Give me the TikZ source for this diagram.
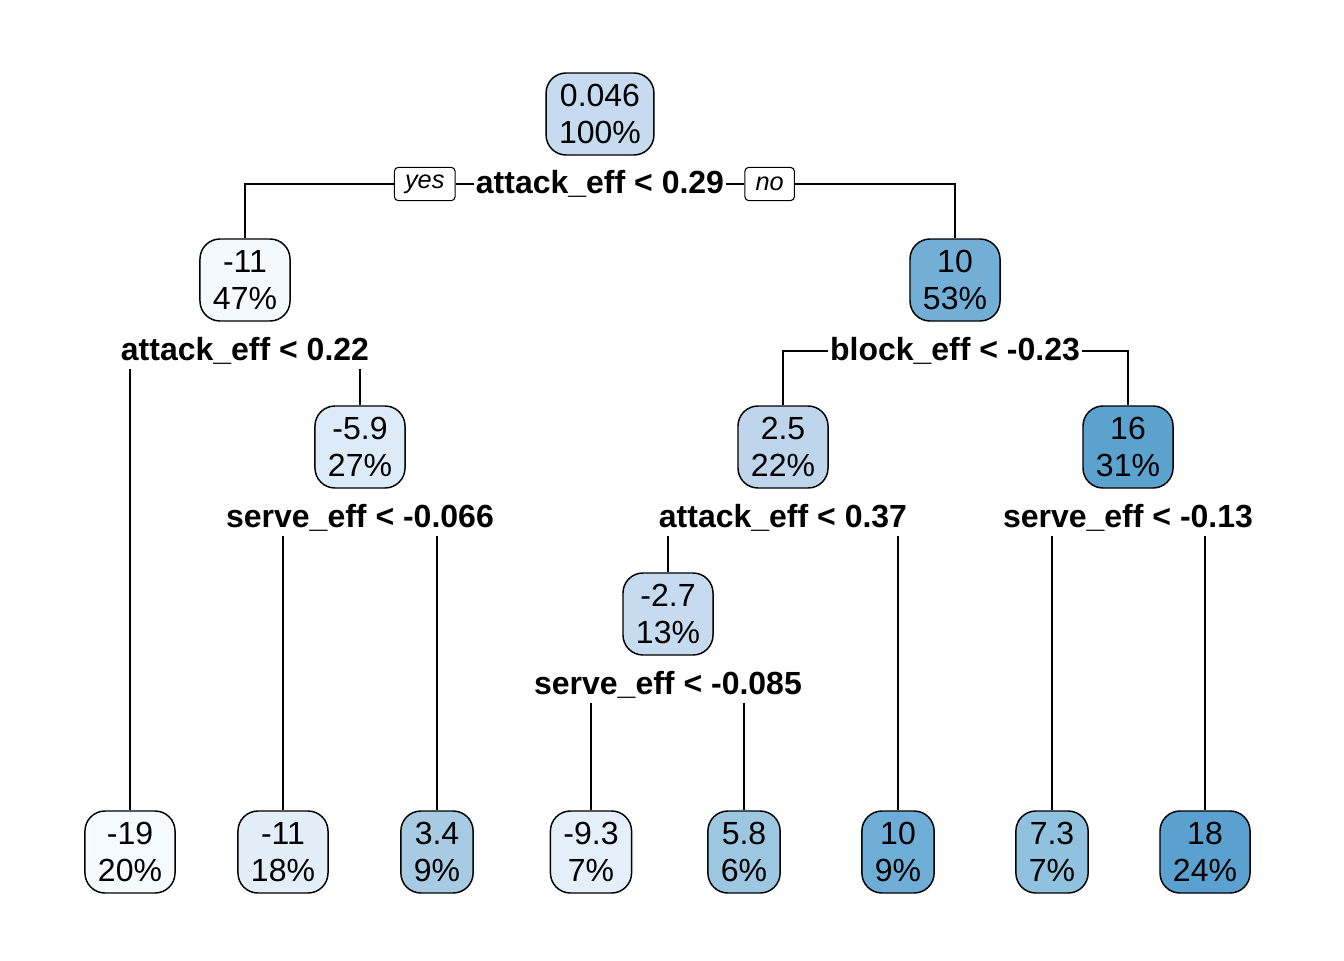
\documentclass[tikz,border=0pt]{standalone}
\usepackage{fontspec}
\setmainfont{Liberation Sans}
\usetikzlibrary{positioning}
% fill colours of the boxes
\definecolor{cRoot}{HTML}{C6DBEF}
\definecolor{cLow}{HTML}{F4F9FE}
\definecolor{cHigh}{HTML}{72AED5}
\definecolor{cMidA}{HTML}{DDEAF7}
\definecolor{cMidB}{HTML}{BED5EC}
\definecolor{cMidC}{HTML}{5CA2CE}
\definecolor{cMidD}{HTML}{C6DBEF}
\definecolor{cLeafA}{HTML}{F5FAFE}
\definecolor{cLeafB}{HTML}{E3EEF9}
\definecolor{cLeafC}{HTML}{A7CBE3}
\definecolor{cLeafD}{HTML}{E4EFF9}
\definecolor{cLeafE}{HTML}{9DC6E1}
\definecolor{cLeafF}{HTML}{6EADD6}
\definecolor{cLeafG}{HTML}{90C1DE}
\definecolor{cLeafH}{HTML}{5BA1CF}
\begin{document}
\begin{tikzpicture}[x=0.75pt,y=-0.75pt,
  box/.style={draw=black, line width=1.1pt, rounded corners=15pt, align=center,
    font=\fontsize{24}{28}\selectfont, inner xsep=9.75pt, inner ysep=0pt, minimum height=61.5pt},
  split/.style={font=\fontsize{24}{28}\selectfont\bfseries, inner xsep=1.5pt, inner ysep=3pt},
  yesno/.style={draw=black, line width=0.8pt, rounded corners=3pt,
    font=\fontsize{19}{21}\selectfont\itshape, inner xsep=8pt, inner ysep=0pt, minimum height=25pt},
  edge/.style={line width=0.8pt}]
\useasboundingbox (0,0) rectangle (1344,960);
% inner nodes
\node[box, fill=cRoot] (n1) at (600,114) {0.046\\100\%};
\node[box, fill=cLow] (n2) at (245,280) {-11\\47\%};
\node[box, fill=cHigh] (n3) at (955,280) {10\\53\%};
\node[box, fill=cMidA] (n4) at (360,447) {-5.9\\27\%};
\node[box, fill=cMidB] (n6) at (783,447) {2.5\\22\%};
\node[box, fill=cMidC] (n7) at (1128,447) {16\\31\%};
\node[box, fill=cMidD] (n5) at (668,614) {-2.7\\13\%};
% leaves
\node[box, fill=cLeafA] (l1) at (130,852) {-19\\20\%};
\node[box, fill=cLeafB] (l2) at (283,852) {-11\\18\%};
\node[box, fill=cLeafC] (l3) at (437,852) {3.4\\9\%};
\node[box, fill=cLeafD] (l4) at (591,852) {-9.3\\7\%};
\node[box, fill=cLeafE] (l5) at (744,852) {5.8\\6\%};
\node[box, fill=cLeafF] (l6) at (898,852) {10\\9\%};
\node[box, fill=cLeafG] (l7) at (1052,852) {7.3\\7\%};
\node[box, fill=cLeafH] (l8) at (1205,852) {18\\24\%};
% split labels
\node[split] (s1) at (600,184) {attack\_eff < 0.29};
\node[split] (s2) at (245,351) {attack\_eff < 0.22};
\node[split] (s3) at (360,518) {serve\_eff < -0.066};
\node[split] (s4) at (955,351) {block\_eff < -0.23};
\node[split] (s5) at (783,518) {attack\_eff < 0.37};
\node[split] (s6) at (1128,518) {serve\_eff < -0.13};
\node[split] (s7) at (668,685) {serve\_eff < -0.085};
\node[yesno, left=13.5pt of s1] (yes) {yes};
\node[yesno, right=13.5pt of s1] (no) {no};
% connectors
\draw[edge] (n2.north) |- (yes.west);
\draw[edge] (yes.east) -- (s1.west);
\draw[edge] (s1.east) -- (no.west);
\draw[edge] (no.east) -| (n3.north);
\draw[edge] (s2.south -| l1.north) -- (l1.north);
\draw[edge] (s2.south -| n4.north) -- (n4.north);
\draw[edge] (s3.south -| l2.north) -- (l2.north);
\draw[edge] (s3.south -| l3.north) -- (l3.north);
\draw[edge] (n6.north) |- (s4.west);
\draw[edge] (s4.east) -| (n7.north);
\draw[edge] (s5.south -| n5.north) -- (n5.north);
\draw[edge] (s5.south -| l6.north) -- (l6.north);
\draw[edge] (s6.south -| l7.north) -- (l7.north);
\draw[edge] (s6.south -| l8.north) -- (l8.north);
\draw[edge] (s7.south -| l4.north) -- (l4.north);
\draw[edge] (s7.south -| l5.north) -- (l5.north);
\end{tikzpicture}
\end{document}
